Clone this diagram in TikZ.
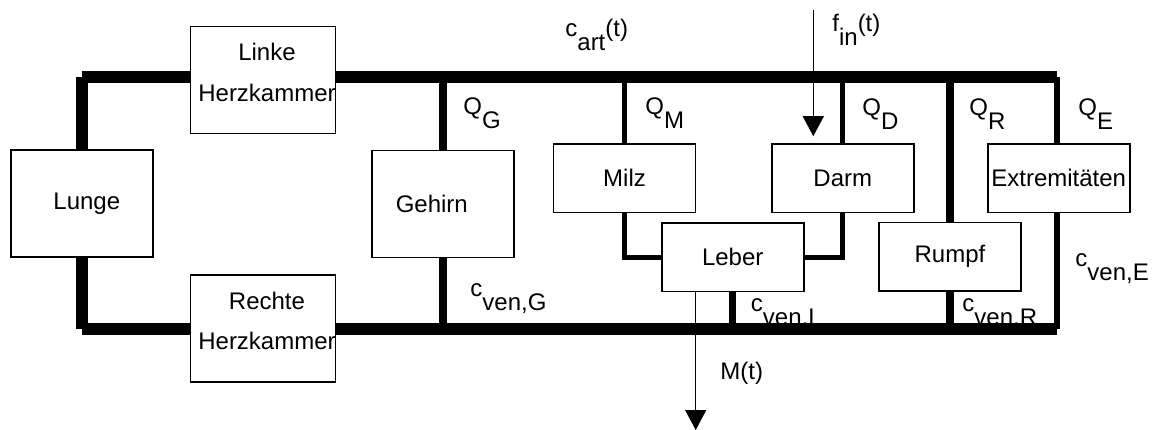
\documentclass[tikz,border=0pt]{standalone}
\usepackage{fontspec}
\setmainfont{Liberation Sans}
\usetikzlibrary{arrows.meta,backgrounds}

\newcommand{\subidx}[2]{#1\raisebox{-7pt}{#2}}

\begin{document}
\begin{tikzpicture}[
  x=0.5pt, y=-0.5pt,
  font=\fontsize{12}{14.4}\selectfont,
  %% Organ boxes
  organ/.style={
    rectangle, draw=black, fill=white,
    line width=0.8pt, minimum width=71pt, inner sep=0pt
  },
  bigorgan/.style={organ, minimum height=53.5pt},
  smallorgan/.style={organ, minimum height=34.2pt},
  chamber/.style={bigorgan, align=center, text depth=7.4pt},
  %% Vessel styles
  trunk/.style={line width=6pt},
  vessel/.style={line width=3.75pt},
  limb/.style={line width=3pt},
  capil/.style={line width=2.35pt},
  flow/.style={-{Triangle[width=10.5pt,length=10pt]}, line width=0.65pt},
  lbl/.style={anchor=base west, inner sep=0pt},
]
\useasboundingbox (0,0) rectangle (1156,429);

%% ── Heart and lung ─────────────────────────────────────────────────────────
\node[bigorgan] (lunge) at (81.8,203.5) {\hspace*{5pt}Lunge};
\node[chamber]  (lhk)   at (263,80)     {\hspace*{4pt}Linke\\[6pt]\hspace*{4pt}Herzkammer};
\node[chamber]  (rhk)   at (263,328.2)  {\hspace*{4pt}Rechte\\[6pt]\hspace*{4pt}Herzkammer};

%% ── Organs ─────────────────────────────────────────────────────────────────
\node[bigorgan]   (gehirn) at (442.8,204)    {Gehirn\hspace*{11pt}};
\node[smallorgan] (milz)   at (624.5,178.2)  {Milz};
\node[smallorgan] (darm)   at (842.8,178.2)  {Darm};
\node[smallorgan] (leber)  at (732.7,257.2)  {Leber};
\node[smallorgan] (rumpf)  at (950,256.7)    {Rumpf};
\node[smallorgan] (extr)   at (1058.7,178.2) {Extremitäten};

%% trunk corners
\coordinate (art-l) at (81.7,76.5);
\coordinate (art-r) at (1057.2,76.5);
\coordinate (ven-l) at (81.7,328.5);
\coordinate (ven-r) at (1057.2,328.5);

%% ── Vessels (behind the boxes) ─────────────────────────────────────────────
\begin{scope}[on background layer]
  \draw[trunk] (art-l) -- (art-r);
  \draw[trunk] (ven-l) -- (ven-r);
  \draw[trunk] (lunge.north -| art-l) -- (art-l);
  \draw[trunk] (lunge.south -| ven-l) -- (ven-l);

  \draw[vessel] (gehirn.north) -- (gehirn.north |- art-l);
  \draw[vessel] (gehirn.south) -- (gehirn.south |- ven-l);

  \draw[capil] (milz.north) -- (milz.north |- art-l);
  \draw[capil] (darm.north) -- (darm.north |- art-l);
  \draw[capil] (milz.south) |- (leber.west);
  \draw[capil] (darm.south) |- (leber.east);
  \draw[vessel] (leber.south) -- (leber.south |- ven-l);

  \draw[vessel] (rumpf.north) -- (rumpf.north |- art-l);
  \draw[vessel] (rumpf.south) -- (rumpf.south |- ven-l);

  \draw[limb] (art-r) -- (art-r |- extr.north);
  \draw[limb] (art-r |- extr.south) -- (ven-r);
\end{scope}

%% ── Input and output ───────────────────────────────────────────────────────
\coordinate (fin)  at (813.3,10);
\coordinate (mout) at (695.7,430);
\draw[flow, shorten >=3.5pt] (fin) -- (fin |- darm.north);
\draw[flow] (mout |- leber.south) -- (mout);

%% ── Labels ─────────────────────────────────────────────────────────────────
\node[lbl] (cart)  at (565,36)    {\subidx{c}{art}(t)};
\node[lbl] (finl)  at (832,31)    {\subidx{f}{in}(t)};
\node[lbl] (qg)    at (463,114)   {\subidx{Q}{G}};
\node[lbl] (qm)    at (645,114)   {\subidx{Q}{M}};
\node[lbl] (qd)    at (862,115)   {\subidx{Q}{D}};
\node[lbl] (qr)    at (969,115)   {\subidx{Q}{R}};
\node[lbl] (qe)    at (1078,115)  {\subidx{Q}{E}};
\node[lbl] (cveng) at (470,296)   {\subidx{c}{ven,G}};
\node[lbl] (cvenl) at (750.5,311.5) {\subidx{c}{ven,L}};
\node[lbl] (cvenr) at (962,311.5) {\subidx{c}{ven,R}};
\node[lbl] (cvene) at (1075,266)  {\subidx{c}{ven,E}};
\node[lbl] (mt)    at (720,379)   {M(t)};

\end{tikzpicture}
\end{document}
